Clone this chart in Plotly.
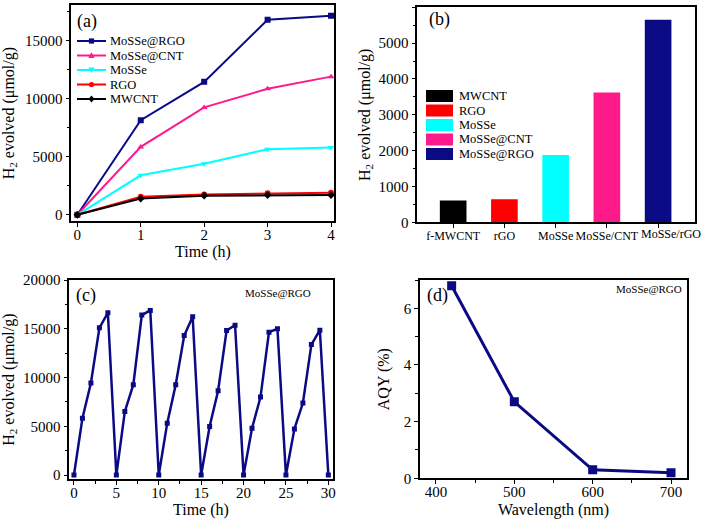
import plotly.graph_objects as go

# ---- data (a)
time_a = [0, 1, 2, 3, 4]
series_a_names = ["MoSSe@RGO", "MoSSe@CNT", "MoSSe", "RGO", "MWCNT"]
rgo_comp = [0, 8150, 11450, 16800, 17150]
cnt_comp = [0, 5850, 9250, 10850, 11900]
mosse = [0, 3400, 4400, 5650, 5800]
rgo = [0, 1550, 1750, 1850, 1900]
mwcnt = [0, 1400, 1650, 1700, 1700]

# ---- data (b)
cats_b = ["f-MWCNT", "rGO", "MoSSe", "MoSSe/CNT", "MoSSe/rGO"]
legend_b = ["MWCNT", "RGO", "MoSSe", "MoSSe@CNT", "MoSSe@RGO"]
vals_b = [610, 640, 1880, 3620, 5650]

# ---- data (c)
time_c = list(range(0, 31))
cyc_c = [0, 5830, 9430, 15090, 16640,
         0, 6520, 9260, 16400, 16880,
         0, 5320, 9260, 14300, 16230,
         0, 4970, 8650, 14820, 15370,
         0, 4800, 7990, 14650, 14990,
         0, 4730, 7380, 13380, 14850,
         0]

# ---- data (d)
wl_d = [420, 500, 600, 700]
aqy_d = [6.8, 2.7, 0.3, 0.2]

NAVY = "#0a0a85"
PINK = "#ff1a8c"
CYAN = "#00ffff"
RED = "#ff0000"
BLACK = "#000000"
FONT = "Liberation Serif"
W, H = 702, 522

fig = go.Figure()

styles_a = [
    (rgo_comp, NAVY, "square"),
    (cnt_comp, PINK, "triangle-up"),
    (mosse, CYAN, "triangle-down"),
    (rgo, RED, "circle"),
    (mwcnt, BLACK, "diamond"),
]
for name, (ys, col, sym) in zip(series_a_names, styles_a):
    fig.add_trace(go.Scatter(x=time_a, y=ys, name=name, mode="lines+markers",
                             line=dict(color=col, width=2),
                             marker=dict(symbol=sym, size=6, color=col),
                             showlegend=False, xaxis="x", yaxis="y"))

cols_b = [BLACK, RED, CYAN, PINK, NAVY]
for cat, lab, v, col in zip(cats_b, legend_b, vals_b, cols_b):
    fig.add_trace(go.Bar(x=[cat], y=[v], name=lab, marker=dict(color=col, line=dict(width=0)),
                         width=0.52, showlegend=False, xaxis="x2", yaxis="y2"))

fig.add_trace(go.Scatter(x=time_c, y=cyc_c, mode="lines+markers", showlegend=False,
                         name="MoSSe@RGO",
                         line=dict(color=NAVY, width=2.5),
                         marker=dict(symbol="square", size=5, color=NAVY),
                         xaxis="x3", yaxis="y3"))

fig.add_trace(go.Scatter(x=wl_d, y=aqy_d, mode="lines+markers", showlegend=False,
                         name="MoSSe@RGO",
                         line=dict(color=NAVY, width=3),
                         marker=dict(symbol="square", size=9, color=NAVY),
                         xaxis="x4", yaxis="y4"))


def dx(a, b):
    return [a / W, b / W]


def dy(top, bot):
    return [1 - bot / H, 1 - top / H]


def px(x):
    return x / W


def py(y):
    return 1 - y / H


TICKFONT = dict(family=FONT, size=15, color="black")
TITLEFONT = dict(family=FONT, size=16, color="black")

axis_common = dict(showline=True, linecolor="black", linewidth=1.5, mirror=True,
                   ticks="outside", ticklen=4, tickwidth=1.2, tickcolor="black",
                   showgrid=False, zeroline=False, automargin=False,
                   exponentformat="none", tickformat="d")
minor = dict(ticks="outside", ticklen=3, tickwidth=1, tickcolor="black", showgrid=False)

ytitle = "H<sub>2</sub> evolved (μmol/g)"

shapes = []
annotations = []

# ---- manual legend (a): line + marker swatch, tight spacing as in reference
leg_a_y0 = 41
leg_step = 14.5
for i, (name, (ys, col, sym)) in enumerate(zip(series_a_names, styles_a)):
    yc = leg_a_y0 + i * leg_step
    shapes.append(dict(type="line", xref="paper", yref="paper",
                       x0=px(77), x1=px(106), y0=py(yc), y1=py(yc),
                       line=dict(color=col, width=2)))
    cx, r = 91.5, 2.6
    if sym == "square":
        shapes.append(dict(type="rect", xref="paper", yref="paper",
                           x0=px(cx - r), x1=px(cx + r), y0=py(yc + r), y1=py(yc - r),
                           fillcolor=col, line=dict(width=0)))
    elif sym == "circle":
        shapes.append(dict(type="circle", xref="paper", yref="paper",
                           x0=px(cx - r), x1=px(cx + r), y0=py(yc + r), y1=py(yc - r),
                           fillcolor=col, line=dict(width=0)))
    else:
        if sym == "triangle-up":
            pts = [(cx, yc - 3.2), (cx + 3.2, yc + 2.4), (cx - 3.2, yc + 2.4)]
        elif sym == "triangle-down":
            pts = [(cx, yc + 3.2), (cx + 3.2, yc - 2.4), (cx - 3.2, yc - 2.4)]
        else:
            pts = [(cx, yc - 3.4), (cx + 3.0, yc), (cx, yc + 3.4), (cx - 3.0, yc)]
        path = "M " + " L ".join(f"{px(a):.5f},{py(b):.5f}" for a, b in pts) + " Z"
        shapes.append(dict(type="path", xref="paper", yref="paper", path=path,
                           fillcolor=col, line=dict(width=0)))
    annotations.append(dict(text=name, x=px(108), y=py(yc), xref="paper", yref="paper",
                            xanchor="left", yanchor="middle", showarrow=False,
                            font=dict(family=FONT, size=12.5, color="black")))

# ---- manual legend (b): colour blocks
leg_b_y0 = 96
for i, (lab, col) in enumerate(zip(legend_b, cols_b)):
    yc = leg_b_y0 + i * leg_step
    shapes.append(dict(type="rect", xref="paper", yref="paper",
                       x0=px(426), x1=px(453), y0=py(yc + 6), y1=py(yc - 6),
                       fillcolor=col, line=dict(width=0)))
    annotations.append(dict(text=lab, x=px(457), y=py(yc), xref="paper", yref="paper",
                            xanchor="left", yanchor="middle", showarrow=False,
                            font=dict(family=FONT, size=12.5, color="black")))

# panel letters and sample labels
for txt, x, y in [("(a)", 75, 21), ("(b)", 427, 20), ("(c)", 74, 295), ("(d)", 425, 295)]:
    annotations.append(dict(text=txt, x=px(x), y=py(y), xref="paper", yref="paper",
                            xanchor="left", yanchor="middle", showarrow=False,
                            font=dict(family=FONT, size=18, color="black")))
for x, y in [(313, 293), (684, 289)]:
    annotations.append(dict(text="MoSSe@RGO", x=px(x), y=py(y), xref="paper", yref="paper",
                            xanchor="right", yanchor="middle", showarrow=False,
                            font=dict(family=FONT, size=11, color="black")))

# x-axis titles of (a) and (c), placed close to the tick labels as in the reference
annotations.append(dict(text="Time (h)", x=(71.3 + 334) / 2 / W, y=py(252), xref="paper",
                        yref="paper", xanchor="center", yanchor="middle", showarrow=False,
                        font=TITLEFONT))
annotations.append(dict(text="Time (h)", x=(69.3 + 333) / 2 / W, y=py(510), xref="paper",
                        yref="paper", xanchor="center", yanchor="middle", showarrow=False,
                        font=TITLEFONT))
# last category label of (b) is drawn shifted right, as in the reference
annotations.append(dict(text=cats_b[-1], x=cats_b[-1], y=0, xref="x2", yref="y2",
                        xanchor="center", yanchor="top", yshift=-3, xshift=13,
                        showarrow=False, font=dict(family=FONT, size=12, color="black")))

XSO = -5  # pull x tick labels closer to the axis, as in the reference

fig.update_layout(
    width=W, height=H, paper_bgcolor="white", plot_bgcolor="white",
    margin=dict(l=0, r=0, t=0, b=0),
    barmode="overlay", showlegend=False,
    font=dict(family=FONT, color="black"),
    xaxis=dict(**axis_common, tickfont=TICKFONT, domain=dx(71.3, 334),
               range=[-0.095, 4.047], dtick=1, anchor="y", ticklabelstandoff=XSO),
    yaxis=dict(**axis_common, tickfont=TICKFONT, domain=dy(5, 221.3), range=[-560, 18070],
               dtick=5000, minor=dict(**minor, dtick=2500), anchor="x",
               title=dict(text=ytitle, standoff=7, font=TITLEFONT)),
    xaxis2=dict(showline=True, linecolor="black", linewidth=1.5, mirror=True,
                ticks="outside", ticklen=4, tickwidth=1.2, tickcolor="black",
                showgrid=False, zeroline=False, automargin=False,
                tickfont=dict(family=FONT, size=12, color="black"),
                tickvals=cats_b, ticktext=cats_b[:-1] + [""],
                tickangle=0, domain=dx(417.3, 695), range=[-0.70, 4.72],
                type="category", anchor="y2", ticklabelstandoff=-2),
    yaxis2=dict(**axis_common, tickfont=TICKFONT, domain=dy(7.3, 222.3), range=[0, 6000],
                dtick=1000, minor=dict(**minor, dtick=500), anchor="x2",
                title=dict(text=ytitle, standoff=4, font=TITLEFONT)),
    xaxis3=dict(**axis_common, tickfont=TICKFONT, domain=dx(69.3, 333), range=[-0.55, 30.55],
                dtick=5, minor=dict(**minor, dtick=2.5), anchor="y3", ticklabelstandoff=XSO),
    yaxis3=dict(**axis_common, tickfont=TICKFONT, domain=dy(280, 479.3), range=[-440, 20000],
                dtick=5000, minor=dict(**minor, dtick=2500), anchor="x3",
                title=dict(text=ytitle, standoff=6, font=TITLEFONT)),
    xaxis4=dict(**axis_common, tickfont=TICKFONT, domain=dx(420, 687), range=[379.6, 720.4],
                dtick=100, minor=dict(**minor, dtick=50), anchor="y4", ticklabelstandoff=XSO,
                title=dict(text="Wavelength (nm)", standoff=5, font=TITLEFONT)),
    yaxis4=dict(**axis_common, tickfont=TICKFONT, domain=dy(280, 478.3), range=[0, 7],
                dtick=2, minor=dict(**minor, dtick=1), anchor="x4",
                title=dict(text="AQY (%)", standoff=10, font=TITLEFONT)),
    shapes=shapes,
    annotations=annotations,
)

fig.write_html("out.html", config={"displayModeBar": False},
               post_script="document.body.style.margin='0';document.body.style.overflow='hidden';")
